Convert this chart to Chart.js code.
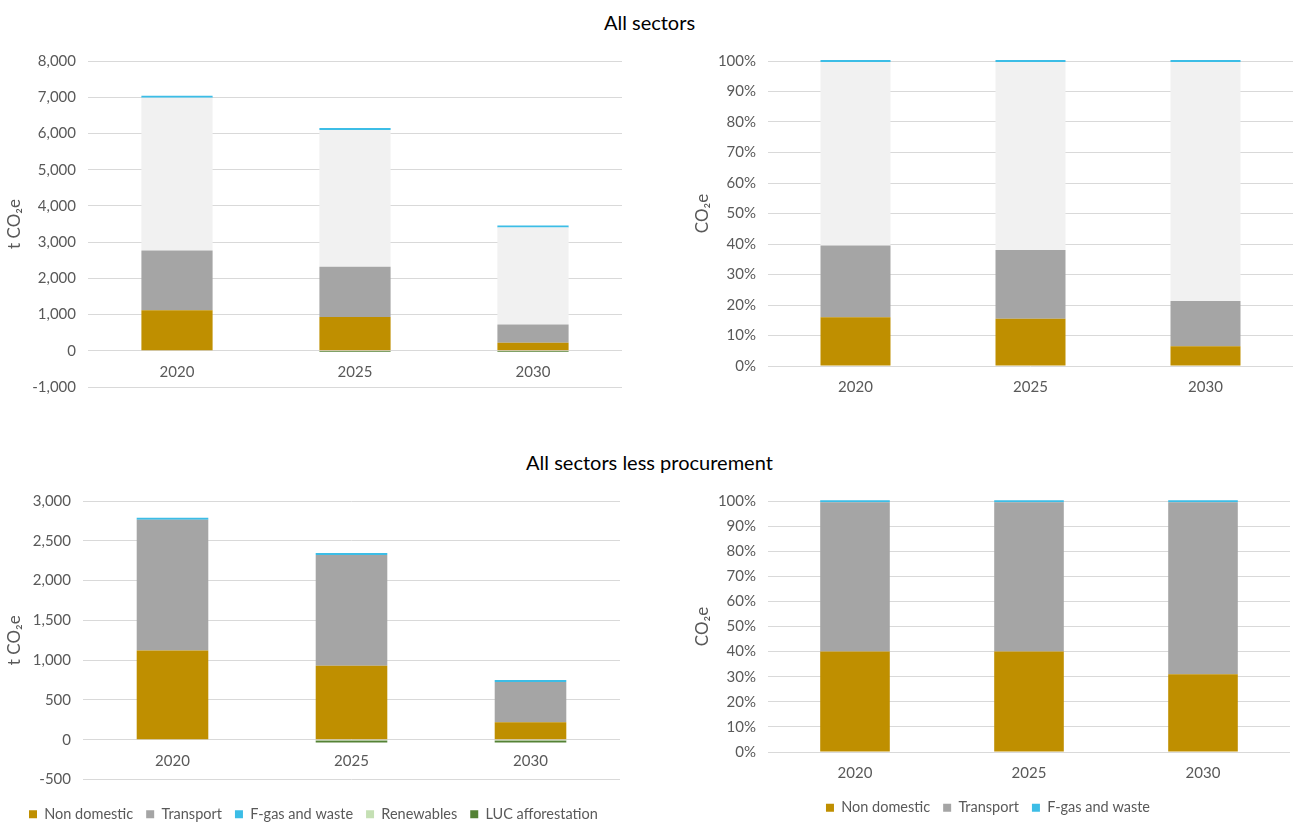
<!DOCTYPE html>
<html>
<head>
<meta charset="utf-8">
<script src="https://cdn.jsdelivr.net/npm/chart.js@4"></script>
<style>
  body { margin: 0; background: #fff; width: 1299px; height: 825px; position: relative; overflow: hidden; font-family: Lato, sans-serif; }
  .title { position: absolute; left: 0; width: 1299px; text-align: center; font-size: 20px; color: #000; }
  .box { position: absolute; }
</style>
</head>
<body>
<div class="title" style="top:10px">All sectors</div>
<div class="title" style="top:450px">All sectors less procurement</div>
<div class="box" style="left:0;top:40px"><canvas id="c1" width="640" height="370"></canvas></div>
<div class="box" style="left:650px;top:40px"><canvas id="c2" width="649" height="370"></canvas></div>
<div class="box" style="left:0;top:480px"><canvas id="c3" width="640" height="355"></canvas></div>
<div class="box" style="left:650px;top:480px"><canvas id="c4" width="649" height="345"></canvas></div>
<script>
// ---------------------------------------------------------------
//  Data
// ---------------------------------------------------------------
const YEARS = ["2020", "2025", "2030"];

// All sectors, t CO2e
const nonDomestic      = [1120, 930, 220];
const transport        = [1645, 1390, 505];
const procurement      = [4220, 3775, 2680];
const fgasWaste        = [20, 15, 15];
const renewables       = [0, -10, -10];
const lucAfforestation = [0, -25, -25];

// All sectors, share of total (%)
const nonDomesticPct = [16, 15.5, 6.5];
const transportPct   = [23.5, 22.5, 14.8];
const procurementPct = [60.2, 61.7, 78.4];
const fgasWastePct   = [0.3, 0.3, 0.3];

// All sectors less procurement, share of total (%)
const nonDomesticPctLP = [40, 40, 31];
const transportPctLP   = [59.5, 59.5, 68.5];
const fgasWastePctLP   = [0.5, 0.5, 0.5];

// ---------------------------------------------------------------
//  Styling
// ---------------------------------------------------------------
const COLORS = {
  nonDomestic: "#bf8f00",
  transport:   "#a5a5a5",
  procurement: "#f1f1f1",
  fgas:        "#3cbde6",
  renewables:  "#c5e0b4",
  luc:         "#548235",
};
const TEXT = "#595959";

Chart.defaults.font.family = "Lato, sans-serif";
Chart.defaults.font.size = 15;
Chart.defaults.color = TEXT;

function ds(label, data, color, extra) {
  return Object.assign({
    label, data,
    backgroundColor: color,
    borderWidth: 0,
    stack: "s",
    barPercentage: 0.4,
    categoryPercentage: 1,
  }, extra || {});
}

// thin line on top of the stack, allowed to poke past the plot edge
const FGAS = { minBarLength: 2, clip: 4 };

function makeChart(id, datasets, cfg) {
  const scales = {
    x: {
      stacked: true,
      position: { y: 0 },                // labels sit under the zero line, like Excel
      grid: { display: false, drawTicks: false },
      border: { display: false },
      ticks: { padding: 12, color: TEXT },
    },
    y: {
      stacked: true,
      min: cfg.min,
      max: cfg.max,
      ticks: { stepSize: cfg.step, padding: 12, color: TEXT, callback: cfg.fmt },
      grid: { color: "#d9d9d9", drawTicks: false },
      border: { display: false },
      title: { display: true, text: cfg.title, color: TEXT, font: { size: 17 }, padding: { top: cfg.titlePad, bottom: 0 } },
      afterFit: s => { s.width = cfg.axisWidth; },
    },
  };
  if (cfg.gap) {
    // empty axis that only keeps room between plot and legend
    scales.gap = {
      type: "category", axis: "x", position: "bottom",
      grid: { display: false, drawTicks: false },
      border: { display: false },
      ticks: { display: false },
      afterFit: s => { s.height = cfg.gap; },
    };
  }
  // nudge the legend sideways without moving the plot
  const legendNudge = {
    id: "legendNudge",
    afterLayout(chart) {
      if (chart.legend && cfg.legendShift) {
        chart.legend.left += cfg.legendShift;
        chart.legend.right += cfg.legendShift;
      }
    },
  };
  return new Chart(document.getElementById(id), {
    type: "bar",
    data: { labels: YEARS, datasets },
    options: {
      responsive: false,
      animation: false,
      layout: { padding: cfg.padding },
      plugins: {
        tooltip: { enabled: false },
        legend: cfg.legend ? {
          position: "bottom",
          align: cfg.legend,
          labels: { boxWidth: 8, boxHeight: 8, padding: 13, color: TEXT, font: { size: 14.5 } },
        } : { display: false },
      },
      scales,
    },
    plugins: [legendNudge],
  });
}

const fmtNum = v => v.toLocaleString("en-US");
const fmtPct = v => v + "%";

// All sectors, absolute
makeChart("c1", [
  ds("Non domestic", nonDomestic, COLORS.nonDomestic),
  ds("Transport", transport, COLORS.transport),
  ds("Procurement", procurement, COLORS.procurement),
  ds("F-gas and waste", fgasWaste, COLORS.fgas, FGAS),
  ds("Renewables", renewables, COLORS.renewables),
  ds("LUC afforestation", lucAfforestation, COLORS.luc),
], { min: -1000, max: 8000, step: 1000, fmt: fmtNum, title: "t CO\u2082e", titlePad: 4,
     axisWidth: 88, padding: { left: 0, right: 18, top: 19, bottom: 23 } });

// All sectors, share
makeChart("c2", [
  ds("Non domestic", nonDomesticPct, COLORS.nonDomestic),
  ds("Transport", transportPct, COLORS.transport),
  ds("Procurement", procurementPct, COLORS.procurement),
  ds("F-gas and waste", fgasWastePct, COLORS.fgas, FGAS),
], { min: 0, max: 100, step: 10, fmt: fmtPct, title: "CO\u2082e", titlePad: 42,
     axisWidth: 118, padding: { left: 0, right: 6, top: 21, bottom: 44 } });

// Less procurement, absolute
makeChart("c3", [
  ds("Non domestic", nonDomestic, COLORS.nonDomestic),
  ds("Transport", transport, COLORS.transport),
  ds("F-gas and waste", fgasWaste, COLORS.fgas, FGAS),
  ds("Renewables", renewables, COLORS.renewables),
  ds("LUC afforestation", lucAfforestation, COLORS.luc),
], { min: -500, max: 3000, step: 500, fmt: fmtNum, title: "t CO\u2082e", titlePad: 4, legend: "start",
     legendShift: 16, gap: 14.5, axisWidth: 83, padding: { left: 0, right: 20, top: 19, bottom: 3.5 } });

// Less procurement, share
makeChart("c4", [
  ds("Non domestic", nonDomesticPctLP, COLORS.nonDomestic),
  ds("Transport", transportPctLP, COLORS.transport),
  ds("F-gas and waste", fgasWastePctLP, COLORS.fgas, FGAS),
], { min: 0, max: 100, step: 10, fmt: fmtPct, title: "CO\u2082e", titlePad: 12, legend: "center",
     legendShift: 3, gap: 35.5, axisWidth: 88, padding: { left: 30, right: 9, top: 18, bottom: 0 } });
</script>
</body>
</html>
